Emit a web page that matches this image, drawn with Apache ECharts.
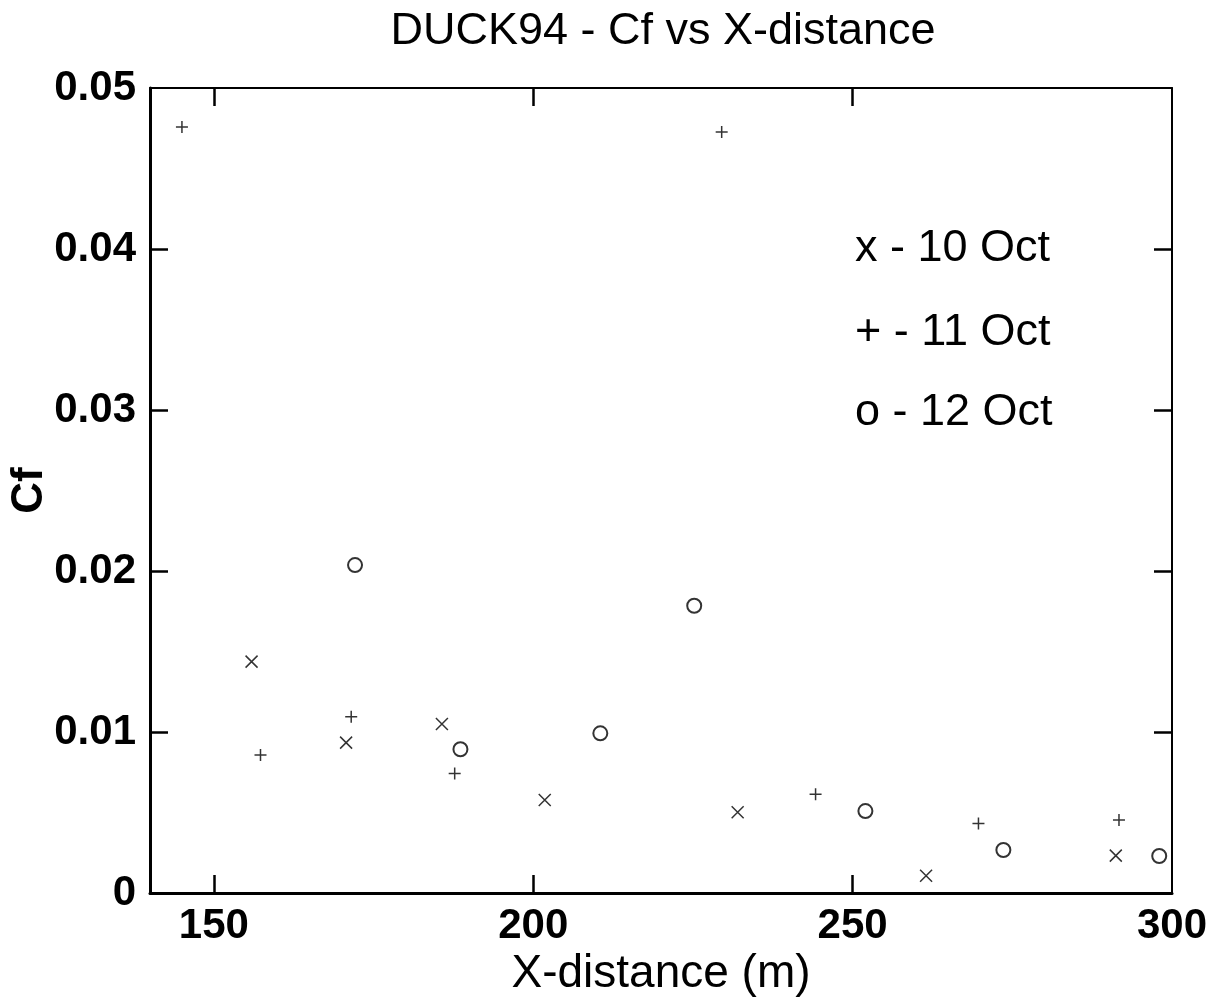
<!DOCTYPE html>
<html>
<head>
<meta charset="utf-8">
<script src="https://cdn.jsdelivr.net/npm/echarts@6/dist/echarts.min.js"></script>
<style>
html,body{margin:0;padding:0;background:#fff;}
#chart{width:1225px;height:999px;}
</style>
</head>
<body>
<div id="chart"></div>
<script>
// ---- data ----
var oct10X = [155.9, 170.7, 185.7, 201.8, 232.0, 261.5, 291.2];
var oct10Y = [0.01437, 0.00934, 0.0105, 0.00578, 0.00501, 0.00107, 0.00232];

var oct11X = [145.0, 229.5, 157.3, 171.5, 187.7, 244.2, 269.7, 291.7];
var oct11Y = [0.04758, 0.04727, 0.00857, 0.01095, 0.00743, 0.00613, 0.00432, 0.00453];

var oct12X = [172.1, 188.6, 210.5, 225.2, 252.0, 273.6, 298.0];
var oct12Y = [0.02037, 0.00893, 0.00992, 0.01784, 0.00509, 0.00267, 0.0023];

var xTickValues = [150, 200, 250];
var xLabelValues = [150, 200, 250, 300];
var yTickValues = [0.01, 0.02, 0.03, 0.04];

var titleText = 'DUCK94 - Cf vs X-distance';
var xName = 'X-distance (m)';
var yName = 'Cf';
var legendLines = ['x - 10 Oct', '+ - 11 Oct', 'o - 12 Oct'];

function pairs(xs, ys) { return xs.map(function (x, i) { return [x, ys[i]]; }); }

var FONT = "'Liberation Sans', Arial, Helvetica, sans-serif";
var chart = echarts.init(document.getElementById('chart'), null, {renderer: 'canvas'});

var markerStyle = {color: 'transparent', borderColor: '#000', borderWidth: 1.5};

function axisX(pos, showLabels, lineW) {
  return {
    type: 'value', position: pos, min: 140, max: 300,
    name: showLabels ? xName : '',
    nameLocation: 'middle', nameGap: 58, nameMoveOverlap: false,
    nameTextStyle: {fontFamily: FONT, fontSize: 46, color: '#000'},
    axisLine: {show: true, onZero: false, lineStyle: {color: '#000', width: lineW}},
    axisTick: {show: true, inside: true, length: 18, customValues: xTickValues, lineStyle: {color: '#000', width: 2.5}},
    axisLabel: {show: showLabels, customValues: xLabelValues, fontFamily: FONT, fontSize: 42, fontWeight: 'bold', color: '#000', margin: 12},
    splitLine: {show: false}
  };
}
function axisY(pos, showLabels, lineW) {
  return {
    type: 'value', position: pos, min: 0, max: 0.05, interval: 0.01,
    name: showLabels ? yName : '',
    nameLocation: 'middle', nameGap: 98, nameRotate: 90, nameMoveOverlap: false,
    nameTextStyle: {fontFamily: FONT, fontSize: 44, fontWeight: 'bold', color: '#000'},
    axisLine: {show: true, onZero: false, lineStyle: {color: '#000', width: lineW}},
    axisTick: {show: true, inside: true, length: 18, customValues: yTickValues, lineStyle: {color: '#000', width: 2.5}},
    axisLabel: {show: showLabels, fontFamily: FONT, fontSize: 42, fontWeight: 'bold', color: '#000', margin: 14,
      formatter: function (v) { return v === 0 ? '0' : v.toFixed(2); }},
    splitLine: {show: false}
  };
}

var option = {
  animation: false,
  backgroundColor: '#fff',
  title: {
    text: titleText, left: 658, top: 4, textAlign: 'center',
    textStyle: {fontFamily: FONT, fontSize: 45, fontWeight: 'normal', color: '#000'}
  },
  grid: {left: 150, right: 53, top: 88, bottom: 106, containLabel: false, outerBoundsMode: 'none'},
  xAxis: [axisX('bottom', true, 3), axisX('top', false, 2)],
  yAxis: [axisY('left', true, 3), axisY('right', false, 2)],
  graphic: legendLines.map(function (t, i) {
    return {
      type: 'text', left: 855, top: [249, 333, 413][i] - 23,
      style: {text: t, fontFamily: FONT, fontSize: 45, fill: '#000'}
    };
  }),
  series: [
    {name: '10 Oct', type: 'scatter', xAxisIndex: 0, yAxisIndex: 0,
     symbol: 'path://M0,0L12,12M12,0L0,12', symbolSize: 12, itemStyle: markerStyle,
     data: pairs(oct10X, oct10Y)},
    {name: '11 Oct', type: 'scatter', xAxisIndex: 0, yAxisIndex: 0,
     symbol: 'path://M6,0L6,12M0,6L12,6', symbolSize: 12, itemStyle: markerStyle,
     data: pairs(oct11X, oct11Y)},
    {name: '12 Oct', type: 'scatter', xAxisIndex: 0, yAxisIndex: 0,
     symbol: 'emptyCircle', symbolSize: 14,
     itemStyle: {color: '#000', borderColor: '#000', borderWidth: 1.4},
     data: pairs(oct12X, oct12Y)}
  ]
};
chart.setOption(option);
</script>
</body>
</html>
